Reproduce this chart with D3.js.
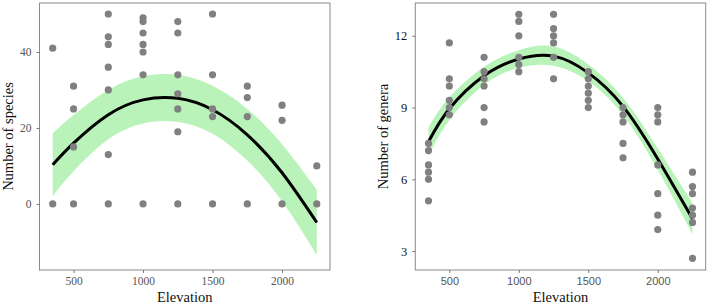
<!DOCTYPE html>
<html><head><meta charset="utf-8">
<script src="https://cdn.jsdelivr.net/npm/d3@7"></script>
<style>body{margin:0;background:#fff;}svg{display:block;}</style>
</head><body>
<script>
// ---------- data ----------
const elevations = [350, 500, 750, 1000, 1250, 1500, 1750, 2000, 2250];
const elevationTicks = [500, 1000, 1500, 2000];

// Left panel: number of species observed at each elevation
const speciesValues = [
  [41, 0],
  [31, 25, 15, 0],
  [50, 44, 42, 36, 30, 13, 0],
  [49, 48, 45, 42, 40, 34, 0],
  [48, 45, 34, 29, 25, 19, 0],
  [50, 34, 25, 23, 0],
  [31, 28, 23, 0],
  [26, 22, 0],
  [10, 0]
];
const speciesFit   = [10.3, 16.0, 23.5, 27.4, 27.8, 24.8, 18.2, 8.2, -4.9];
const speciesHalf  = [8.3, 7.4, 6.5, 6.2, 6.2, 6.3, 6.8, 7.5, 8.6];
const speciesTicks = [0, 20, 40];

// Right panel: number of genera observed at each elevation
const generaValues = [
  [7.5, 7.2, 6.6, 6.3, 6.0, 5.1],
  [11.7, 10.2, 9.9, 9.3, 9.0, 8.7],
  [11.1, 10.5, 10.2, 9.9, 9.0, 8.4],
  [12.9, 12.6, 12.0, 11.1, 10.8, 10.5],
  [12.9, 12.3, 12.0, 11.7, 11.1, 10.2],
  [10.5, 10.2, 9.9, 9.6, 9.3, 9.0],
  [9.0, 8.7, 8.4, 7.5, 6.9],
  [9.0, 8.7, 8.4, 6.6, 5.4, 4.5, 3.9],
  [6.3, 5.7, 5.4, 4.8, 4.5, 4.2, 2.7]
];
const generaFit   = [7.57, 8.95, 10.33, 11.03, 11.15, 10.45, 9.05, 6.85, 4.35];
const generaHalf  = [0.6, 0.48, 0.38, 0.37, 0.4, 0.35, 0.36, 0.45, 0.65];
const generaTicks = [3, 6, 9, 12];

// ---------- drawing ----------
const W = 709, H = 307;
const svg = d3.select("body").append("svg").attr("width", W).attr("height", H);

function panel(cfg) {
  const x = d3.scaleLinear().domain([255, 2345]).range([cfg.left, cfg.right]);
  const y = d3.scaleLinear().domain(cfg.yDomain).range([270, 3]);
  const g = svg.append("g");

  const rows = elevations.map((e, i) => ({e, fit: cfg.fit[i], lo: cfg.fit[i] - cfg.half[i], hi: cfg.fit[i] + cfg.half[i]}));
  g.append("path").datum(rows)
    .attr("d", d3.area().x(d => x(d.e)).y0(d => y(d.lo)).y1(d => y(d.hi)).curve(d3.curveNatural))
    .attr("fill", "#b9f3b9");
  g.append("path").datum(rows)
    .attr("d", d3.line().x(d => x(d.e)).y(d => y(d.fit)).curve(d3.curveNatural))
    .attr("fill", "none").attr("stroke", "#000").attr("stroke-width", 3);

  const pts = [];
  elevations.forEach((e, i) => cfg.values[i].forEach(v => pts.push({e, v})));
  g.selectAll("circle.pt").data(pts).join("circle")
    .attr("cx", d => x(d.e)).attr("cy", d => y(d.v)).attr("r", 3.6).attr("fill", "#808080");

  // frame
  g.append("rect").attr("x", cfg.left).attr("y", 3)
    .attr("width", cfg.right - cfg.left).attr("height", 267)
    .attr("fill", "none").attr("stroke", "#8a8a8a").attr("stroke-width", 1);

  // axes
  const xa = g.append("g").attr("transform", `translate(0,270)`)
    .call(d3.axisBottom(x).tickValues(elevationTicks).tickFormat(d3.format("d")).tickSize(3).tickPadding(4));
  xa.select(".domain").remove();
  xa.selectAll("line").attr("stroke", "#777");
  xa.selectAll("text").attr("font-family", cfg.xFont).attr("font-size", cfg.xSize).attr("fill", "#555");

  const ya = g.append("g").attr("transform", `translate(${cfg.left},0)`)
    .call(d3.axisLeft(y).tickValues(cfg.yTicks).tickFormat(d3.format("d")).tickSize(3).tickPadding(5));
  ya.select(".domain").remove();
  ya.selectAll("line").attr("stroke", "#777");
  ya.selectAll("text").attr("font-family", "'Liberation Serif', serif").attr("font-size", cfg.ySize).attr("fill", cfg.yColor);

  g.append("text").attr("x", (cfg.left + cfg.right) / 2).attr("y", 302)
    .attr("text-anchor", "middle").attr("font-family", "'Liberation Serif', serif")
    .attr("font-size", 14.5).attr("fill", "#111").text("Elevation");
  g.append("text").attr("transform", `translate(${cfg.titleX},${136.5}) rotate(-90)`)
    .attr("text-anchor", "middle").attr("font-family", "'Liberation Serif', serif")
    .attr("font-size", 14.5).attr("fill", "#111").text(cfg.yTitle);
}

panel({left: 39.5, right: 330, yDomain: [-17.4, 52.9], values: speciesValues, fit: speciesFit, half: speciesHalf,
  yTicks: speciesTicks, yTitle: "Number of species", titleX: 13, xFont: "'Liberation Serif', serif", xSize: 11.5,
  ySize: 11.5, yColor: "#555"});
panel({left: 415.3, right: 705.7, yDomain: [2.21, 13.37], values: generaValues, fit: generaFit, half: generaHalf,
  yTicks: generaTicks, yTitle: "Number of genera", titleX: 388, xFont: "'Liberation Sans', Arial, sans-serif", xSize: 11,
  ySize: 12.5, yColor: "#111"});
</script>
</body></html>
